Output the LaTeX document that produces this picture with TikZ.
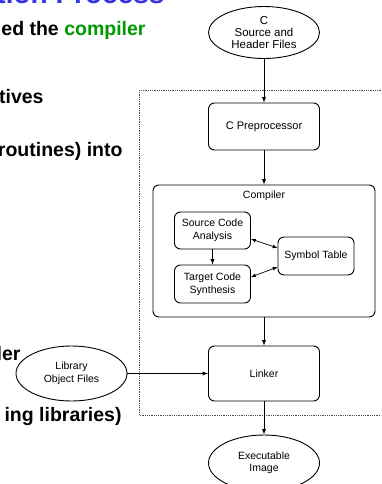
\documentclass[tikz,border=0pt]{standalone}
\usepackage{fontspec}
\setmainfont{Liberation Sans}
\usepackage{tikz}
\usetikzlibrary{arrows,shapes.geometric,positioning}
\definecolor{titleblue}{RGB}{51,51,230}
\definecolor{kwgreen}{RGB}{0,153,0}

\begin{document}
\begin{tikzpicture}[x=1pt,y=-1pt,>=latex,line width=0.9pt,
		box/.style={draw,rounded corners=6pt,inner sep=0pt,align=center,font=\fontsize{10.5}{13}\selectfont},
		file/.style={draw,ellipse,inner sep=0pt,align=center,font=\fontsize{10.5}{12.5}\selectfont},
		slidetext/.style={anchor=base east,inner sep=0pt,font=\fontsize{19.5}{24}\selectfont\bfseries}]
		\useasboundingbox (0,0) rectangle (381,484);
		\clip (0,0) rectangle (381,484);
		% slide text, cut at the left border
		\node[anchor=base east,inner sep=0pt,text=titleblue,font=\fontsize{28}{32}\selectfont\bfseries] (title) at (165,4) {ation Process};
		\node[slidetext] (txta) at (146,36) {ed the \textcolor{kwgreen}{compiler}};
		\node[slidetext] (txtb) at (44,103) {tives};
		\node[slidetext] (txtc) at (123,156) {proutines) into};
		\node[slidetext] (txtd) at (21,360) {ler};
		\node[slidetext] (txte) at (122,421) {ing libraries)};
		% dotted frame
		\draw[densely dotted,line width=0.8pt,black!70] (139,90) rectangle (395,415);
		% diagram
		\node[file,minimum width=111pt,minimum height=52pt,font=\fontsize{11.5}{12}\selectfont] (src) at (264,32.5) {C\\Source and\\Header Files};
		\node[box,minimum width=111pt,minimum height=47pt,font=\fontsize{11}{13}\selectfont] (pre) at (264,126.5) {C Preprocessor};
		\node[box,minimum width=222pt,minimum height=132pt] (comp) at (264,251) {};
		\node[inner sep=0pt,font=\fontsize{10.5}{13}\selectfont] (complbl) at ([yshift=-11pt]comp.north) {Compiler};
		\node[box,minimum width=76pt,minimum height=37pt] (sca) at (212.5,230.5) {Source Code\\Analysis};
		\node[box,minimum width=76pt,minimum height=38pt] (tcs) at (212.5,284) {Target Code\\Synthesis};
		\node[box,minimum width=76pt,minimum height=38pt] (sym) at (316,256) {Symbol Table};
		\node[box,minimum width=111pt,minimum height=55pt] (lnk) at (264,373.5) {Linker};
		\node[file,minimum width=111pt,minimum height=55pt] (lib) at (71.5,373.5) {Library\\Object Files};
		\node[file,minimum width=111pt,minimum height=56pt] (exe) at (264,463) {Executable\\Image};
		\path[->]
		(src) edge (pre)
		(pre) edge (comp)
		(sca) edge (tcs)
		(comp) edge (lnk)
		(lib) edge (lnk)
		(lnk) edge (exe)
		;
		\path[<->,line width=0.7pt]
		([yshift=-8.5pt]sca.east) edge ([yshift=8pt]sym.west)
		([yshift=7pt]tcs.east) edge ([yshift=-11pt]sym.west)
		;
	\end{tikzpicture}
\end{document}
